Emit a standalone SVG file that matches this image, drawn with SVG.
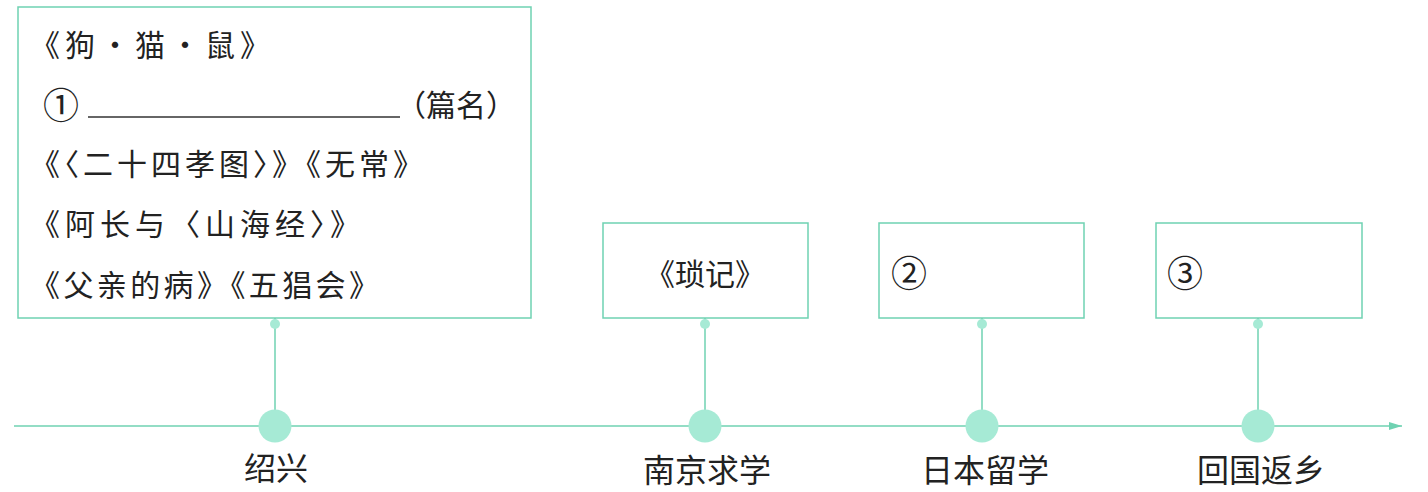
<svg xmlns="http://www.w3.org/2000/svg" width="1428" height="492" viewBox="0 0 1428 492">
<defs>
<style>
.box{fill:#fff;stroke:#6fd2b2;stroke-width:1.5}
.ln{stroke:#6fd2b2;stroke-width:1.5;fill:none}
.big{fill:#a6ead5}
.sm{fill:#a6ead5}
.t{font-family:"Noto Sans CJK SC","Noto Sans",sans-serif;font-size:30px;fill:#222;dominant-baseline:central}
.lab{font-family:"Noto Sans CJK SC","Noto Sans",sans-serif;font-size:32px;fill:#222;text-anchor:middle;dominant-baseline:central}
.num{font-family:"Noto Sans CJK SC","DejaVu Sans",sans-serif;font-size:36px;fill:#222;text-anchor:middle;dominant-baseline:central}
</style>
<marker id="arr" markerWidth="14" markerHeight="10" refX="13" refY="5" orient="auto" markerUnits="userSpaceOnUse">
<path d="M0,1 L13,5 L0,9 Z" fill="#6fd2b2"/>
</marker>
</defs>
<rect width="1428" height="492" fill="#fff"/>
<g id="connectors">
<line class="ln" x1="14" y1="426" x2="1402" y2="426" marker-end="url(#arr)"/>
<line class="ln" x1="275" y1="318" x2="275" y2="426"/>
<line class="ln" x1="705" y1="318" x2="705" y2="426"/>
<line class="ln" x1="982" y1="318" x2="982" y2="426"/>
<line class="ln" x1="1258" y1="318" x2="1258" y2="426"/>
<circle class="sm" cx="275" cy="324" r="5"/>
<circle class="sm" cx="705" cy="324" r="5"/>
<circle class="sm" cx="982" cy="324" r="5"/>
<circle class="sm" cx="1258" cy="324" r="5"/>
</g>
<g id="node-shaoxing">
<rect class="box" x="18" y="7" width="513" height="311"/>
<text class="t" x="30" y="43" textLength="240" lengthAdjust="spacing">《狗・猫・鼠》</text>
<text class="num" x="61" y="103">①</text>
<line x1="88" y1="117" x2="400" y2="117" stroke="#333" stroke-width="1.5"/>
<text class="t" x="396" y="103">（篇名）</text>
<text class="t" x="30" y="162" textLength="393" lengthAdjust="spacing">《〈二十四孝图〉》《无常》</text>
<text class="t" x="30" y="222" textLength="330" lengthAdjust="spacing">《阿长与〈山海经〉》</text>
<text class="t" x="30" y="283" textLength="349" lengthAdjust="spacing">《父亲的病》《五猖会》</text>
<circle class="big" cx="275" cy="426" r="16.5"/>
<text class="lab" x="276" y="466">绍兴</text>
</g>
<g id="node-nanjing">
<rect class="box" x="603" y="223" width="205" height="95"/>
<text class="t" x="705" y="272" text-anchor="middle">《琐记》</text>
<circle class="big" cx="705" cy="426" r="16.5"/>
<text class="lab" x="707" y="468">南京求学</text>
</g>
<g id="node-japan">
<rect class="box" x="879" y="223" width="205" height="95"/>
<text class="num" x="909" y="271">②</text>
<circle class="big" cx="982" cy="426" r="16.5"/>
<text class="lab" x="985" y="468">日本留学</text>
</g>
<g id="node-return">
<rect class="box" x="1156" y="223" width="206" height="95"/>
<text class="num" x="1185" y="271">③</text>
<circle class="big" cx="1258" cy="426" r="16.5"/>
<text class="lab" x="1261" y="468">回国返乡</text>
</g>
</svg>
